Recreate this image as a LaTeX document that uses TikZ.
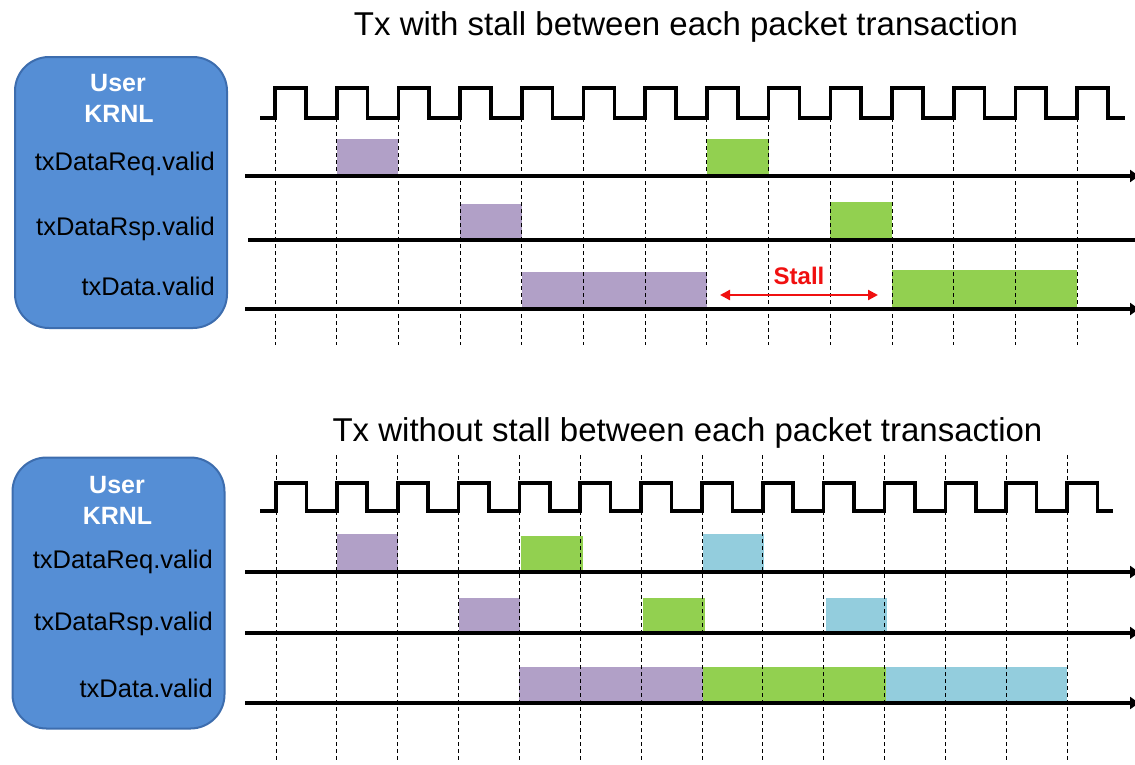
\documentclass[tikz,border=0pt]{standalone}
\usepackage{fontspec}
\setmainfont{Liberation Sans}
\usetikzlibrary{arrows.meta}

\definecolor{krnlblue}{HTML}{558ED5}
\definecolor{krnledge}{HTML}{3D6DAE}
\definecolor{pktpurple}{HTML}{B1A0C7}
\definecolor{pktgreen}{HTML}{92D050}
\definecolor{pktcyan}{HTML}{93CDDD}
\definecolor{stallred}{HTML}{F01010}

\begin{document}
\begin{tikzpicture}[x=1pt,y=-1pt,
  heading/.style={font=\fontsize{33}{36}\selectfont, anchor=base, inner sep=0pt},
  krnlbox/.style={draw=krnledge, line width=2pt, fill=krnlblue, rounded corners=34pt,
    minimum width=212pt, minimum height=271pt, inner sep=0pt},
  krnltitle/.style={font=\fontsize{25}{28}\selectfont\bfseries, text=white, anchor=base, inner sep=0pt},
  siglabel/.style={font=\fontsize{25.5}{28}\selectfont, anchor=base east, inner sep=0pt},
  clockwave/.style={line width=3.6pt},
  sigline/.style={line width=3.6pt},
  sigarrow/.style={line width=3.6pt, -{Triangle[length=9pt,width=12pt]}},
  gridline/.style={line width=0.9pt, dash pattern=on 4pt off 3pt},
  stalltext/.style={font=\fontsize{24}{28}\selectfont\bfseries, text=stallred, anchor=base, inner sep=0pt},
  stallarrow/.style={draw=stallred, line width=2.2pt, {Triangle[length=10pt,width=10pt]}-{Triangle[length=10pt,width=10pt]}}
]
\useasboundingbox (0,0) rectangle (1135,764);

% ---------------- upper diagram: with stall ----------------
\node[heading] (titleA) at (686,35) {Tx with stall between each packet transaction};
\node[krnlbox] (boxA) at (121,192.5) {};
\node[krnltitle] (userA) at (118,91.7) {User};
\node[krnltitle] (krnlA) at (119,122.7) {KRNL};
\node[siglabel] (reqlabA) at (215,170) {txDataReq.valid};
\node[siglabel] (rsplabA) at (215,235) {txDataRsp.valid};
\node[siglabel] (datlabA) at (215,295) {txData.valid};

% pulses (edge k at 275 + 61.7 k)
\fill[pktpurple] (336.7,139) rectangle (398.4,176);
\fill[pktgreen]  (706.9,139) rectangle (768.6,176);
\fill[pktpurple] (460,204) rectangle (521.8,240);
\fill[pktgreen]  (830.3,202) rectangle (892,240);
\fill[pktpurple] (521.8,272) rectangle (706.9,309);
\fill[pktgreen]  (892,270) rectangle (1077,309);

% clock grid
\foreach \k in {0,...,13}
  \draw[gridline] ({275+61.7*\k},118) -- ({275+61.7*\k},345);

% clock
\draw[clockwave] (260,117.7)
  \foreach \k in {0,...,13} {
    -- ({275+61.7*\k},117.7) -- ({275+61.7*\k},88)
    -- ({305.85+61.7*\k},88) -- ({305.85+61.7*\k},117.7) }
  -- (1125,117.7);

% signal axes
\coordinate (reqA0) at (245,176);   \coordinate (reqA1) at (1139,176);
\coordinate (rspA0) at (248,240);   \coordinate (rspA1) at (1135,240);
\coordinate (datA0) at (245,309);   \coordinate (datA1) at (1139,309);
\draw[sigarrow] (reqA0) -- (reqA1);
\draw[sigline]  (rspA0) -- (rspA1);
\draw[sigarrow] (datA0) -- (datA1);

% stall marker
\node[stalltext] (stall) at (799,284) {Stall};
\coordinate (stallL) at (720,295);
\coordinate (stallR) at (878,295);
\draw[stallarrow] (stallL) -- (stallR);

% ---------------- lower diagram: without stall ----------------
\node[heading] (titleB) at (687.5,441) {Tx without stall between each packet transaction};
\node[krnlbox] (boxB) at (118.5,593) {};
\node[krnltitle] (userB) at (117,493) {User};
\node[krnltitle] (krnlB) at (117.5,524) {KRNL};
\node[siglabel] (reqlabB) at (213,568) {txDataReq.valid};
\node[siglabel] (rsplabB) at (213,630) {txDataRsp.valid};
\node[siglabel] (datlabB) at (213,697) {txData.valid};

% pulses (edge k at 276 + 60.85 k)
\fill[pktpurple] (336.85,534) rectangle (397.7,572);
\fill[pktgreen]  (521,536) rectangle (583,572);
\fill[pktcyan]   (702.5,534) rectangle (764,572);
\fill[pktpurple] (458.55,598) rectangle (520,633);
\fill[pktgreen]  (643,598) rectangle (705,633);
\fill[pktcyan]   (825.5,598) rectangle (887,633);
\fill[pktpurple] (519.4,667) rectangle (703,703);
\fill[pktgreen]  (703,667) rectangle (885.5,703);
\fill[pktcyan]   (885.5,667) rectangle (1067.05,703);

% clock grid
\foreach \k in {0,...,13}
  \draw[gridline] ({276+60.85*\k},455) -- ({276+60.85*\k},760);

% clock
\draw[clockwave] (260,511)
  \foreach \k in {0,...,13} {
    -- ({276+60.85*\k},511) -- ({276+60.85*\k},483)
    -- ({306.4+60.85*\k},483) -- ({306.4+60.85*\k},511) }
  -- (1113,511);

% signal axes
\coordinate (reqB0) at (245,572);   \coordinate (reqB1) at (1139,572);
\coordinate (rspB0) at (245,633);   \coordinate (rspB1) at (1139,633);
\coordinate (datB0) at (245,703);   \coordinate (datB1) at (1139,703);
\draw[sigarrow] (reqB0) -- (reqB1);
\draw[sigarrow] (rspB0) -- (rspB1);
\draw[sigarrow] (datB0) -- (datB1);
\end{tikzpicture}
\end{document}
